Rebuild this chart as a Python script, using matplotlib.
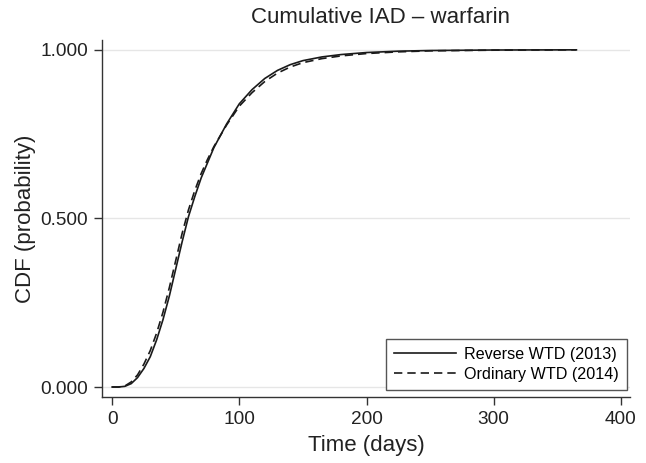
import matplotlib

matplotlib.use("Agg")
import matplotlib.pyplot as plt

# time (days) and cumulative probability
time_days = [0, 1, 5, 10, 15, 20, 25, 30, 35, 40, 45, 50, 55, 60, 65, 70, 75, 80, 90,
             100, 110, 120, 130, 140, 150, 165, 180, 200, 225, 250, 300, 365]
reverse_wtd = [0, 0, 0.0, 0.002, 0.01, 0.028, 0.055, 0.09, 0.14, 0.2, 0.27, 0.35, 0.43,
               0.505, 0.565, 0.62, 0.665, 0.71, 0.78, 0.84, 0.882, 0.915, 0.939, 0.956,
               0.968, 0.979, 0.986, 0.992, 0.996, 0.998, 0.9995, 1.0]
ordinary_wtd = [0, 0, 0.0, 0.003, 0.015, 0.036, 0.068, 0.108, 0.16, 0.222, 0.295, 0.375,
                0.455, 0.525, 0.583, 0.633, 0.675, 0.713, 0.777, 0.833, 0.873, 0.906,
                0.931, 0.949, 0.962, 0.974, 0.982, 0.989, 0.994, 0.997, 0.999, 1.0]

x_ticks = [0, 100, 200, 300, 400]
y_ticks = [0.0, 0.5, 1.0]
y_labels = ["0.000", "0.500", "1.000"]

plt.rcParams["font.family"] = ["Liberation Sans", "DejaVu Sans"]

fig = plt.figure(figsize=(6.46, 4.63), dpi=100)
ax = fig.add_axes([0.158, 0.1425, 0.817, 0.7715])

ax.plot(time_days, reverse_wtd, color="#1a1a1a", lw=1.2, label="Reverse WTD (2013)")
ax.plot(time_days, ordinary_wtd, color="#1a1a1a", lw=1.2, ls=(0, (5, 3)),
        label="Ordinary WTD (2014)")

ax.set_xlim(-7.9, 407)
ax.set_ylim(-0.0297, 1.0297)
ax.set_xticks(x_ticks)
ax.set_yticks(y_ticks)
ax.set_yticklabels(y_labels)
ax.grid(axis="y", color="#e6e6e6", lw=1)
ax.set_axisbelow(True)

for side in ("top", "right"):
    ax.spines[side].set_visible(False)
for side in ("left", "bottom"):
    ax.spines[side].set_color("#333333")
    ax.spines[side].set_linewidth(1)
ax.tick_params(direction="out", length=6, width=1, color="#333333",
               labelsize=13.7, labelcolor="#222222", pad=4)

ax.set_xlabel("Time (days)", fontsize=16, color="#222222", labelpad=5)
ax.set_ylabel("CDF (probability)", fontsize=16, color="#222222", labelpad=3)
ax.set_title("Cumulative IAD \u2013 warfarin", fontsize=16, color="#222222", pad=12,
             x=0.527)

leg = ax.legend(loc="lower right", bbox_to_anchor=(0.995, 0.02), fontsize=11.6,
                frameon=True, fancybox=False, framealpha=1, edgecolor="#555555",
                handlelength=3.8, handletextpad=0.55, borderpad=0.5,
                labelspacing=0.3, borderaxespad=0.0)
leg.get_frame().set_linewidth(1)

fig.savefig("out.png", dpi=100)
plt.close(fig)
